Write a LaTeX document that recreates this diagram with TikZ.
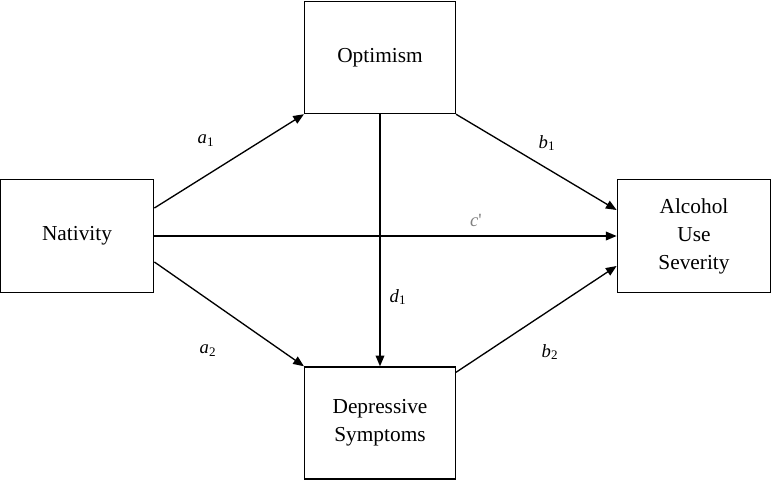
\documentclass[tikz,border=0pt]{standalone}
\usepackage{fontspec}
\setmainfont{Liberation Serif}
\usetikzlibrary{arrows.meta}

\begin{document}
\begin{tikzpicture}[x=0.75pt, y=-0.75pt,
		varbox/.style={draw, line width=1.1pt, minimum width=113pt, minimum height=84pt, align=center, font=\fontsize{16}{21}\selectfont},
		patharr/.style={line width=1pt, -{Triangle[length=8pt, width=6.5pt]}},
		pathlbl/.style={font=\fontsize{14}{16}\selectfont\itshape}]
			%%%%% START %%%%%
			
			\useasboundingbox (0, 0) rectangle (772, 482);
			
			\node[varbox] (opt) at (380, 57.5) {Optimism};
			\node[varbox, minimum width=115pt, minimum height=85pt] (nat) at (77, 236) {Nativity};
			\node[varbox, minimum width=115pt, minimum height=85pt] (alc) at (694, 236) {Alcohol\\Use\\Severity};
			\node[varbox] (dep) at (380, 423) {Depressive\\Symptoms};
			
			\draw[patharr] ([yshift=21pt]nat.east) -- (opt.south west);
			\draw[patharr] (opt.south east) -- ([yshift=19.5pt]alc.west);
			\draw[patharr] (nat.east) -- (alc.west);
			\draw[patharr] (opt.south) -- (dep.north);
			\draw[patharr] ([yshift=-19.5pt]nat.east) -- (dep.north west);
			\draw[patharr] ([yshift=-4.5pt]dep.north east) -- ([yshift=-22.5pt]alc.west);
			
			\node[pathlbl] (a1) at (206, 141) {a\textsubscript{\upshape 1}};
			\node[pathlbl] (b1) at (547, 143) {b\textsubscript{\upshape 1}};
			\node[pathlbl, text=gray] (c) at (476, 220) {c\upshape\textquotesingle};
			\node[pathlbl] (d1) at (398, 297) {d\textsubscript{\upshape 1}};
			\node[pathlbl] (a2) at (208, 351) {a\textsubscript{\upshape 2}};
			\node[pathlbl] (b2) at (550, 352) {b\textsubscript{\upshape 2}};
			
			%%%%% END %%%%%
		\end{tikzpicture}
\end{document}
